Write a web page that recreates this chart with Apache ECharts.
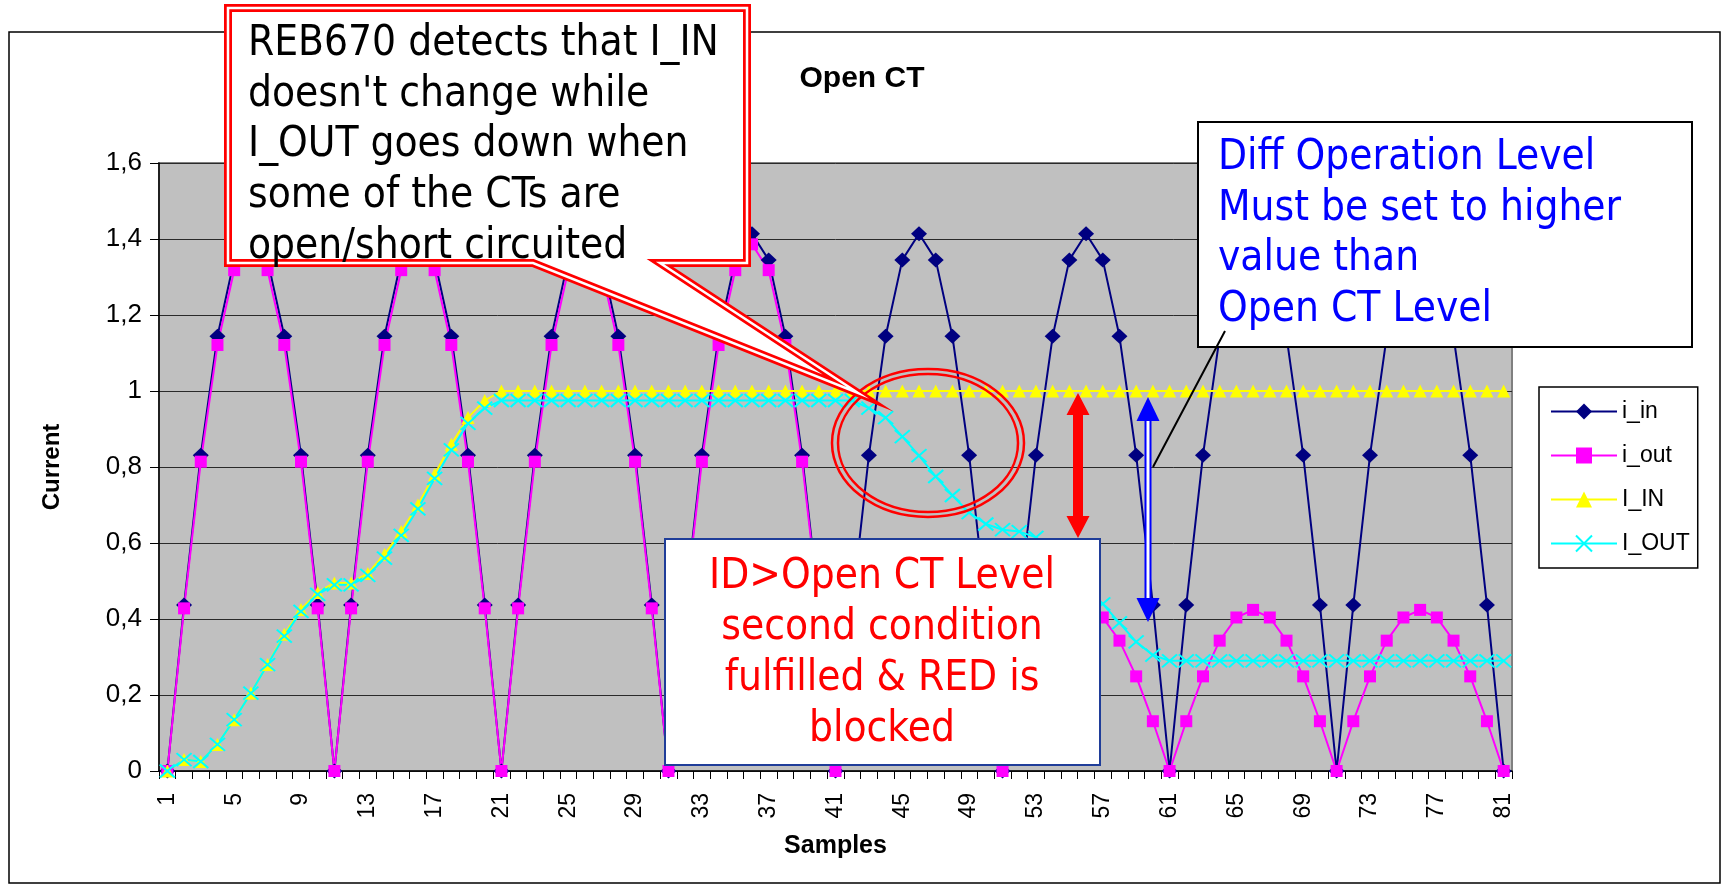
<!DOCTYPE html>
<html>
<head>
<meta charset="utf-8">
<title>Open CT</title>
<script src="https://cdn.jsdelivr.net/npm/echarts@6/dist/echarts.min.js"></script>
<style>
  html, body { margin: 0; padding: 0; background: #fff; }
  #chart-openct { width: 1724px; height: 885px; }
</style>
</head>
<body>
<div id="chart-openct"></div>
<script>
// sample numbers on the x axis
var samples = [
	1, 2, 3, 4, 5, 6, 7, 8, 9, 10,
	11, 12, 13, 14, 15, 16, 17, 18, 19, 20,
	21, 22, 23, 24, 25, 26, 27, 28, 29, 30,
	31, 32, 33, 34, 35, 36, 37, 38, 39, 40,
	41, 42, 43, 44, 45, 46, 47, 48, 49, 50,
	51, 52, 53, 54, 55, 56, 57, 58, 59, 60,
	61, 62, 63, 64, 65, 66, 67, 68, 69, 70,
	71, 72, 73, 74, 75, 76, 77, 78, 79, 80,
	81
];

// instantaneous currents
var iIn = [
	0, 0.437, 0.831, 1.144, 1.345, 1.414, 1.345, 1.144, 0.831, 0.437,
	0, 0.437, 0.831, 1.144, 1.345, 1.414, 1.345, 1.144, 0.831, 0.437,
	0, 0.437, 0.831, 1.144, 1.345, 1.414, 1.345, 1.144, 0.831, 0.437,
	0, 0.437, 0.831, 1.144, 1.345, 1.414, 1.345, 1.144, 0.831, 0.437,
	0, 0.437, 0.831, 1.144, 1.345, 1.414, 1.345, 1.144, 0.831, 0.437,
	0, 0.437, 0.831, 1.144, 1.345, 1.414, 1.345, 1.144, 0.831, 0.437,
	0, 0.437, 0.831, 1.144, 1.345, 1.414, 1.345, 1.144, 0.831, 0.437,
	0, 0.437, 0.831, 1.144, 1.345, 1.414, 1.345, 1.144, 0.831, 0.437,
	0
];
var iOut = [
	0, 0.428, 0.814, 1.121, 1.318, 1.386, 1.318, 1.121, 0.814, 0.428,
	0, 0.428, 0.814, 1.121, 1.318, 1.386, 1.318, 1.121, 0.814, 0.428,
	0, 0.428, 0.814, 1.121, 1.318, 1.386, 1.318, 1.121, 0.814, 0.428,
	0, 0.428, 0.814, 1.121, 1.318, 1.386, 1.318, 1.121, 0.814, 0.428,
	0, 0.131, 0.249, 0.343, 0.404, 0.424, 0.404, 0.343, 0.249, 0.131,
	0, 0.131, 0.249, 0.343, 0.404, 0.424, 0.404, 0.343, 0.249, 0.131,
	0, 0.131, 0.249, 0.343, 0.404, 0.424, 0.404, 0.343, 0.249, 0.131,
	0, 0.131, 0.249, 0.343, 0.404, 0.424, 0.404, 0.343, 0.249, 0.131,
	0
];

// filtered (RMS) currents
var I_IN = [
	0, 0.03, 0.025, 0.07, 0.135, 0.205, 0.28, 0.36, 0.425, 0.47,
	0.495, 0.495, 0.52, 0.57, 0.63, 0.70, 0.78, 0.86, 0.93, 0.975,
	1, 1, 1, 1, 1, 1, 1, 1, 1, 1,
	1, 1, 1, 1, 1, 1, 1, 1, 1, 1,
	1, 1, 1, 1, 1, 1, 1, 1, 1, 1,
	1, 1, 1, 1, 1, 1, 1, 1, 1, 1,
	1, 1, 1, 1, 1, 1, 1, 1, 1, 1,
	1, 1, 1, 1, 1, 1, 1, 1, 1, 1,
	1
];
var I_OUT = [
	0, 0.03, 0.025, 0.07, 0.135, 0.205, 0.28, 0.355, 0.42, 0.465,
	0.49, 0.49, 0.515, 0.56, 0.62, 0.69, 0.77, 0.845, 0.915, 0.955,
	0.975, 0.975, 0.975, 0.975, 0.975, 0.975, 0.975, 0.975, 0.975, 0.975,
	0.975, 0.975, 0.975, 0.975, 0.975, 0.975, 0.975, 0.975, 0.975, 0.975,
	0.975, 0.975, 0.955, 0.93, 0.88, 0.83, 0.775, 0.725, 0.68, 0.65,
	0.635, 0.63, 0.615, 0.58, 0.535, 0.485, 0.44, 0.39, 0.34, 0.305,
	0.29, 0.29, 0.29, 0.29, 0.29, 0.29, 0.29, 0.29, 0.29, 0.29,
	0.29, 0.29, 0.29, 0.29, 0.29, 0.29, 0.29, 0.29, 0.29, 0.29,
	0.29
];

var seriesNames = ['i_in', 'i_out', 'I_IN', 'I_OUT'];
var yTicks = [0, 0.2, 0.4, 0.6, 0.8, 1, 1.2, 1.4, 1.6];

// callout texts
var noteTop = ['REB670 detects that I_IN', "doesn't change while", 'I_OUT goes down when', 'some of the CTs are', 'open/short circuited'];
var noteBlue = ['Diff Operation Level', 'Must be set to higher', 'value than', 'Open CT Level'];
var noteRed = ['ID>Open CT Level', 'second condition', 'fulfilled & RED is', 'blocked'];

var chartFont = 'Liberation Sans';
var noteFont = "42px 'DejaVu Sans Condensed', 'Liberation Sans Narrow', sans-serif";

function textLines(lines, x, y0, step, color, align) {
	var els = [];
	for (var i = 0; i < lines.length; i++) {
		els.push({
			type: 'text', z: 120, silent: true,
			x: x, y: y0 + i * step,
			style: {
				text: lines[i], font: noteFont, fill: color,
				align: align, verticalAlign: 'middle',
				textAlign: align, textVerticalAlign: 'middle'
			}
		});
	}
	return els;
}

function initOpenCt() {
	var myChart = echarts.init(document.getElementById('chart-openct'));

	var lineSeries = function(name, data, color, symbol, size, extra) {
		var s = {
			name: name,
			type: 'line',
			data: data,
			symbol: symbol,
			symbolSize: size,
			showSymbol: true,
			showAllSymbol: true,
			lineStyle: { color: color, width: 2 },
			itemStyle: { color: color, borderWidth: 0 },
			emphasis: { disabled: true },
			z: 3
		};
		if (extra) { s.itemStyle = extra; }
		return s;
	};

	var graphics = [
		// outer chart border
		{ type: 'rect', z: 90, silent: true, shape: { x: 9, y: 32, width: 1711, height: 851 },
			style: { fill: 'none', stroke: '#000', lineWidth: 1.5 } },
		// red double ellipse
		{ type: 'ellipse', z: 110, silent: true, shape: { cx: 928, cy: 443, rx: 96, ry: 74 },
			style: { fill: 'none', stroke: '#FF0000', lineWidth: 2.5 } },
		{ type: 'ellipse', z: 110, silent: true, shape: { cx: 928, cy: 443, rx: 90, ry: 69 },
			style: { fill: 'none', stroke: '#FF0000', lineWidth: 2.5 } },
		// red double arrow
		{ type: 'polygon', z: 110, silent: true,
			shape: { points: [[1078, 393], [1089.5, 415], [1083, 415], [1083, 516], [1089.5, 516], [1078, 538],
				[1066.5, 516], [1073, 516], [1073, 415], [1066.5, 415]] },
			style: { fill: '#FF0000' } },
		// blue double arrow
		{ type: 'rect', z: 110, silent: true, shape: { x: 1145.5, y: 418, width: 5, height: 182 },
			style: { fill: '#fff', stroke: '#0000FF', lineWidth: 2 } },
		{ type: 'polygon', z: 111, silent: true, shape: { points: [[1148, 397], [1159.5, 421], [1136.5, 421]] },
			style: { fill: '#0000FF' } },
		{ type: 'polygon', z: 111, silent: true, shape: { points: [[1148, 622], [1159.5, 598], [1136.5, 598]] },
			style: { fill: '#0000FF' } },
		// blue note box
		{ type: 'rect', z: 112, silent: true, shape: { x: 1198, y: 122, width: 494, height: 225 },
			style: { fill: '#fff', stroke: '#000', lineWidth: 2 } },
		{ type: 'line', z: 113, silent: true, shape: { x1: 1225, y1: 331, x2: 1153, y2: 467 },
			style: { stroke: '#000', lineWidth: 2 } },
		// red note box
		{ type: 'rect', z: 112, silent: true, shape: { x: 665, y: 539, width: 435, height: 226 },
			style: { fill: '#fff', stroke: '#1F3D99', lineWidth: 2 } }
	];

	// top callout with double red border
	var callout = [[228, 8], [747, 8], [747, 263], [660, 263], [858, 393], [533, 263], [228, 263]];
	graphics.push({ type: 'polygon', z: 114, silent: true, shape: { points: callout },
		style: { fill: '#fff', stroke: '#FF0000', lineWidth: 8, lineJoin: 'miter', miterLimit: 30 } });
	graphics.push({ type: 'polygon', z: 115, silent: true, shape: { points: callout },
		style: { fill: 'none', stroke: '#fff', lineWidth: 2.5, lineJoin: 'miter', miterLimit: 30 } });

	graphics = graphics.concat(textLines(noteTop, 248, 44, 50.7, '#000', 'left'));
	graphics = graphics.concat(textLines(noteBlue, 1218, 158, 50.7, '#0000FF', 'left'));
	graphics = graphics.concat(textLines(noteRed, 882, 577, 51, '#FF0000', 'center'));

	var option = {
		animation: false,
		backgroundColor: '#fff',
		title: {
			text: 'Open CT',
			left: 'center',
			top: 59,
			textStyle: { fontFamily: chartFont, fontSize: 30, fontWeight: 'bold', color: '#000' }
		},
		legend: {
			orient: 'vertical',
			left: 1539,
			top: 387,
			itemWidth: 66,
			itemHeight: 20,
			itemGap: 21,
			padding: [13, 8, 13, 11],
			borderColor: '#000',
			borderWidth: 1.5,
			backgroundColor: '#fff',
			data: seriesNames,
			textStyle: { fontFamily: chartFont, fontSize: 23, color: '#000' }
		},
		grid: {
			left: 159,
			top: 163,
			width: 1353,
			height: 608,
			show: true,
			backgroundColor: '#C0C0C0',
			borderColor: '#808080',
			borderWidth: 2,
			containLabel: false,
			outerBoundsMode: 'none'
		},
		xAxis: {
			type: 'category',
			data: samples,
			boundaryGap: true,
			name: 'Samples',
			nameLocation: 'middle',
			nameGap: 63,
			nameTextStyle: { fontFamily: chartFont, fontSize: 25, fontWeight: 'bold', color: '#000' },
			axisLine: { show: true, lineStyle: { color: '#000', width: 1.5 } },
			axisTick: { show: true, interval: 0, length: 8, lineStyle: { color: '#000' } },
			axisLabel: {
				interval: 3, rotate: 90, margin: 22,
				fontFamily: chartFont, fontSize: 23, color: '#000'
			},
			splitLine: { show: false }
		},
		yAxis: {
			type: 'value',
			min: yTicks[0],
			max: yTicks[yTicks.length - 1],
			interval: 0.2,
			name: 'Current',
			nameLocation: 'middle',
			nameRotate: 90,
			nameGap: 95,
			nameTextStyle: { fontFamily: chartFont, fontSize: 24, fontWeight: 'bold', color: '#000' },
			axisLine: { show: true, lineStyle: { color: '#000', width: 1.5 } },
			axisTick: { show: true, length: 9, lineStyle: { color: '#000' } },
			axisLabel: {
				margin: 17, fontFamily: chartFont, fontSize: 26, color: '#000',
				formatter: function(v) { return String(+v.toFixed(1)).replace('.', ','); }
			},
			splitLine: { show: true, lineStyle: { color: '#2a2a2a', width: 1 } }
		},
		series: [
			lineSeries('i_in', iIn, '#000080', 'diamond', [16, 15]),
			lineSeries('i_out', iOut, '#FF00FF', 'rect', [12, 12]),
			lineSeries('I_IN', I_IN, '#FFFF00', 'triangle', [13, 13]),
			lineSeries('I_OUT', I_OUT, '#00FFFF', 'path://M0,0L10,10M0,10L10,0', [15, 13],
				{ color: '#00FFFF', borderColor: '#00FFFF', borderWidth: 2 })
		],
		graphic: { elements: graphics }
	};
	myChart.setOption(option);
}

initOpenCt();
</script>
</body>
</html>
